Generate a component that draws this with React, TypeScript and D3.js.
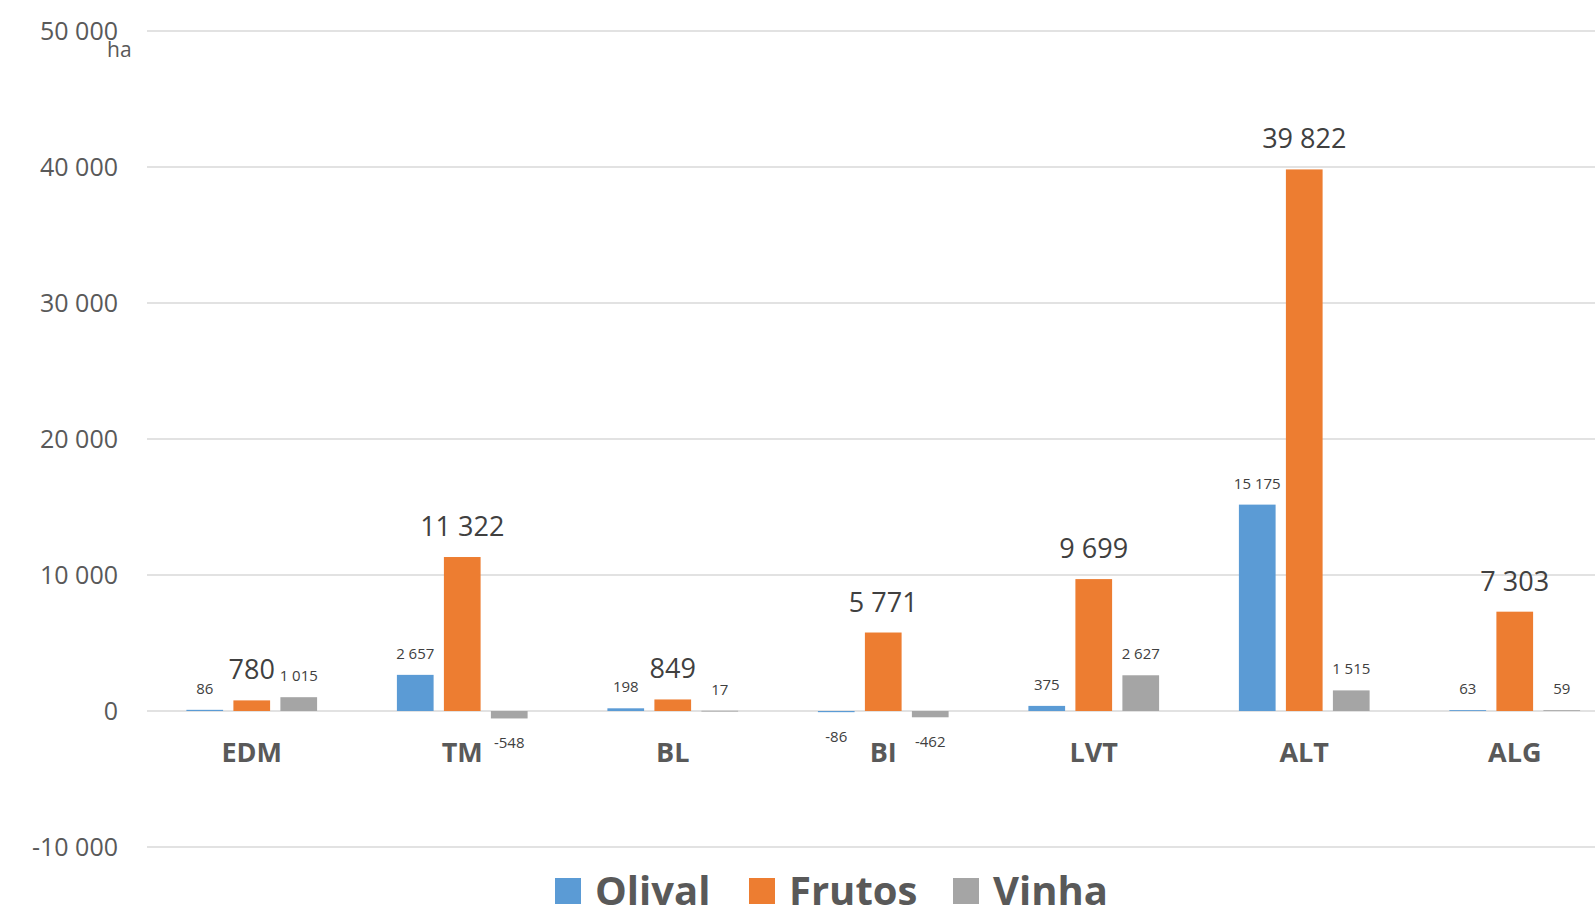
import React from "react";
import * as d3 from "d3";

const categories = ["EDM", "TM", "BL", "BI", "LVT", "ALT", "ALG"];
const seriesNames = ["Olival", "Frutos", "Vinha"];
const olival = [86, 2657, 198, -86, 375, 15175, 63];
const frutos = [780, 11322, 849, 5771, 9699, 39822, 7303];
const vinha = [1015, -548, 17, -462, 2627, 1515, 59];
const yTicks = [-10000, 0, 10000, 20000, 30000, 40000, 50000];
const colors = ["#5B9BD5", "#ED7D31", "#A5A5A5"];
const largeLabelSeries = [false, true, false];

const W = 1595;
const H = 909;
const FONT = "'Open Sans', 'Noto Sans', sans-serif";

const fmt = (v: number) => {
  const s = d3.format(",")(Math.abs(v)).replace(/,/g, " ");
  return (v < 0 ? "-" : "") + s;
};

export default function App() {
  const series = [olival, frutos, vinha];
  const x = d3.scaleBand<string>().domain(categories).range([146.5, 1620]).padding(0);
  const y = d3.scaleLinear().domain([-10000, 50000]).range([847, 31]);
  const barW = 36.7;
  const barStep = 47;
  const offset = (i: number) => (i - 1) * barStep - barW / 2;

  return (
    <svg
      width={W}
      height={H}
      style={{ position: "absolute", left: 0, top: 0, display: "block", background: "#fff" }}
      fontFamily={FONT}
    >
      {yTicks.map((t) => (
        <g key={t}>
          <line x1={147} x2={W} y1={y(t)} y2={y(t)} stroke="#d9d9d9" strokeWidth={1.5} />
          <text x={118} y={y(t) + 9} textAnchor="end" fontSize={25} fill="#595959">
            {fmt(t)}
          </text>
        </g>
      ))}
      <text x={107} y={57} fontSize={21} fill="#595959">ha</text>

      {series.map((vals, si) =>
        vals.map((v, ci) => {
          const cx = (x(categories[ci]) as number) + x.bandwidth() / 2;
          const bx = cx + offset(si);
          const top = y(Math.max(v, 0));
          const bot = y(Math.min(v, 0));
          return (
            <rect
              key={`${si}-${ci}`}
              x={bx}
              y={top}
              width={barW}
              height={Math.max(bot - top, 0.8)}
              fill={colors[si]}
            />
          );
        })
      )}

      {series.map((vals, si) =>
        vals.map((v, ci) => {
          const cx = (x(categories[ci]) as number) + x.bandwidth() / 2 + (si - 1) * barStep;
          const large = largeLabelSeries[si];
          let ly: number;
          if (v >= 0) ly = y(v) - (large ? 21 : 16);
          else ly = y(v) + 30;
          return (
            <text
              key={`l-${si}-${ci}`}
              x={cx}
              y={ly}
              textAnchor="middle"
              fontSize={large ? 27 : 15}
              fill="#404040"
            >
              {fmt(v)}
            </text>
          );
        })
      )}

      {categories.map((c) => (
        <text
          key={c}
          x={(x(c) as number) + x.bandwidth() / 2}
          y={762}
          textAnchor="middle"
          fontSize={27}
          fontWeight="bold"
          fill="#595959"
        >
          {c}
        </text>
      ))}

      {seriesNames.map((n, i) => {
        const lx = [555, 749, 953][i];
        return (
          <g key={n}>
            <rect x={lx} y={878} width={26} height={26} fill={colors[i]} />
            <text x={lx + 40} y={905} fontSize={40} fontWeight="bold" fill="#595959">
              {n}
            </text>
          </g>
        );
      })}
    </svg>
  );
}
